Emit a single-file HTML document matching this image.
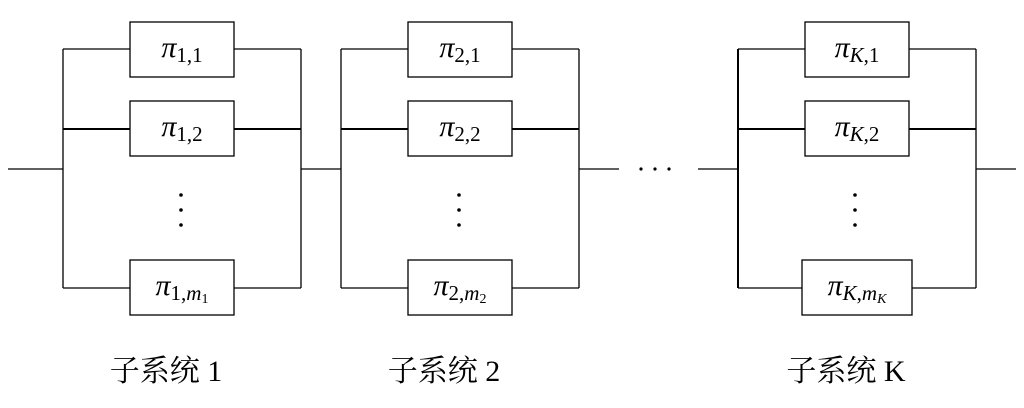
<!DOCTYPE html>
<html><head><meta charset="utf-8"><style>body{margin:0;background:#fff}svg{display:block}</style></head><body>
<svg width="1024" height="408" viewBox="0 0 1024 408" xmlns="http://www.w3.org/2000/svg">
<g stroke="#000" stroke-width="1.3" fill="none">
<line x1="8" y1="169" x2="63" y2="169"/>
<line x1="301" y1="169" x2="341" y2="169"/>
<line x1="579" y1="169" x2="619" y2="169"/>
<line x1="698" y1="169" x2="738" y2="169"/>
<line x1="976" y1="169" x2="1016" y2="169"/>
<line x1="63" y1="49" x2="63" y2="288"/><line x1="301" y1="49" x2="301" y2="288"/>
<line x1="63" y1="49" x2="130" y2="49"/><line x1="234" y1="49" x2="301" y2="49"/>
<line x1="63" y1="129" x2="130" y2="129" stroke-width="2"/><line x1="234" y1="129" x2="301" y2="129" stroke-width="2"/>
<line x1="63" y1="288" x2="130" y2="288"/><line x1="234" y1="288" x2="301" y2="288"/>
<rect x="130" y="22" width="104" height="55"/><rect x="130" y="101" width="104" height="55"/><rect x="130" y="260" width="104" height="55"/>
<line x1="341" y1="49" x2="341" y2="288"/><line x1="579" y1="49" x2="579" y2="288"/>
<line x1="341" y1="49" x2="408" y2="49"/><line x1="512" y1="49" x2="579" y2="49"/>
<line x1="341" y1="129" x2="408" y2="129" stroke-width="2"/><line x1="512" y1="129" x2="579" y2="129" stroke-width="2"/>
<line x1="341" y1="288" x2="408" y2="288"/><line x1="512" y1="288" x2="579" y2="288"/>
<rect x="408" y="22" width="104" height="55"/><rect x="408" y="101" width="104" height="55"/><rect x="408" y="260" width="104" height="55"/>
<line x1="738" y1="49" x2="738" y2="288" stroke-width="2"/><line x1="976" y1="49" x2="976" y2="288"/>
<line x1="738" y1="49" x2="805" y2="49"/><line x1="909" y1="49" x2="976" y2="49"/>
<line x1="738" y1="129" x2="805" y2="129" stroke-width="2"/><line x1="909" y1="129" x2="976" y2="129" stroke-width="2"/>
<line x1="738" y1="288" x2="802" y2="288"/><line x1="912" y1="288" x2="976" y2="288"/>
<rect x="805" y="22" width="104" height="55"/><rect x="805" y="101" width="104" height="55"/><rect x="802" y="260" width="110" height="55"/>
</g>
<g fill="#000">
<circle cx="181" cy="195" r="1.8"/><circle cx="181" cy="210" r="1.8"/><circle cx="181" cy="225" r="1.8"/>
<circle cx="459" cy="195" r="1.8"/><circle cx="459" cy="210" r="1.8"/><circle cx="459" cy="225" r="1.8"/>
<circle cx="855" cy="195" r="1.8"/><circle cx="855" cy="210" r="1.8"/><circle cx="855" cy="225" r="1.8"/>
<circle cx="641" cy="169" r="1.6"/><circle cx="655" cy="169" r="1.6"/><circle cx="669" cy="169" r="1.6"/>
</g>
<g font-family="Liberation Serif, serif" fill="#000" font-size="30" text-anchor="middle">
<text x="182" y="57"><tspan font-style="italic">π</tspan><tspan font-size="21" dy="5">1,1</tspan></text>
<text x="182" y="136"><tspan font-style="italic">π</tspan><tspan font-size="21" dy="5">1,2</tspan></text>
<text x="182" y="295"><tspan font-style="italic">π</tspan><tspan font-size="21" dy="5">1,<tspan font-style="italic">m</tspan><tspan font-size="14" dy="3">1</tspan></tspan></text>
<text x="460" y="57"><tspan font-style="italic">π</tspan><tspan font-size="21" dy="5">2,1</tspan></text>
<text x="460" y="136"><tspan font-style="italic">π</tspan><tspan font-size="21" dy="5">2,2</tspan></text>
<text x="460" y="295"><tspan font-style="italic">π</tspan><tspan font-size="21" dy="5">2,<tspan font-style="italic">m</tspan><tspan font-size="14" dy="3">2</tspan></tspan></text>
<text x="857" y="57"><tspan font-style="italic">π</tspan><tspan font-size="21" dy="5"><tspan font-style="italic">K</tspan>,1</tspan></text>
<text x="857" y="136"><tspan font-style="italic">π</tspan><tspan font-size="21" dy="5"><tspan font-style="italic">K</tspan>,2</tspan></text>
<text x="857" y="295"><tspan font-style="italic">π</tspan><tspan font-size="21" dy="5"><tspan font-style="italic">K</tspan>,<tspan font-style="italic">m</tspan><tspan font-size="14" dy="3" font-style="italic">K</tspan></tspan></text>
</g>
<g font-family="Liberation Serif, 'Noto Serif CJK SC', serif" fill="#000" font-size="30" text-anchor="middle">
<text x="166" y="381">子系统 1</text>
<text x="444" y="381">子系统 2</text>
<text x="846" y="381">子系统 K</text>
</g>
</svg>
</body></html>
